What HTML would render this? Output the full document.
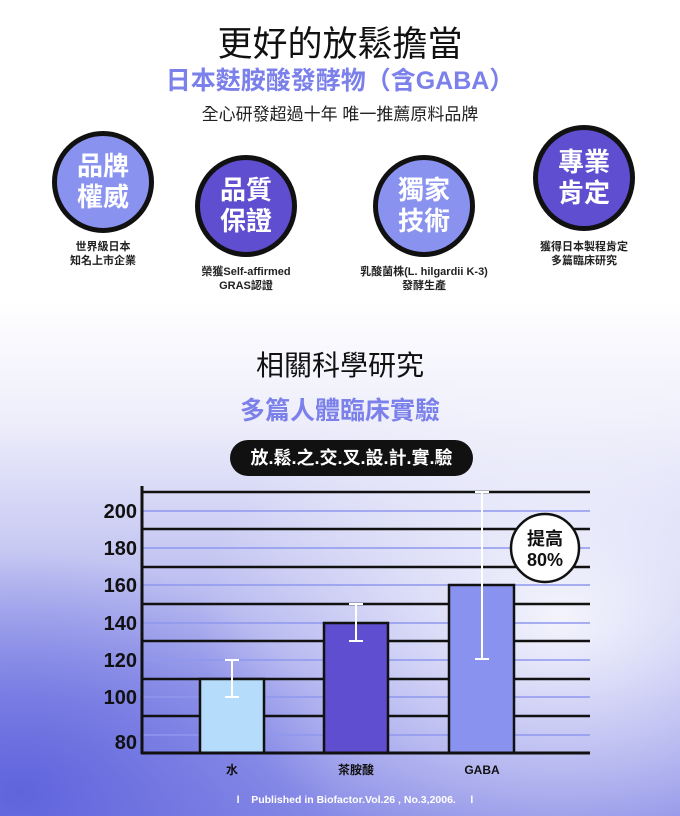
<!DOCTYPE html>
<html><head><meta charset="utf-8"><style>
*{margin:0;padding:0;box-sizing:border-box}
body{width:680px;height:816px;overflow:hidden;position:relative;font-family:"Liberation Sans","Noto Sans CJK TC",sans-serif;
background:linear-gradient(180deg,#fff 0px,#fff 300px,#eeeefb 420px,#c4c6f2 560px,#9a9deb 700px,#878ae6 816px);}
.bg2{position:absolute;left:0;top:0;width:680px;height:816px;background:radial-gradient(ellipse 360px 260px at 560px 620px,rgba(255,255,255,.85),rgba(255,255,255,0)),radial-gradient(ellipse 320px 240px at 20px 790px,rgba(85,90,218,.8),rgba(85,90,218,0));}
.t{position:absolute;left:0;width:680px;text-align:center;white-space:nowrap}
.c{position:absolute;border:5px solid #111;border-radius:50%;color:#fff;font-weight:bold;font-size:26px;line-height:31px;display:flex;align-items:center;justify-content:center;text-align:center}
.cap{position:absolute;font-size:11px;font-weight:bold;line-height:14px;text-align:center;width:200px;color:#222}
</style></head><body><div class="bg2"></div>
<div class="t" style="top:16px;font-size:35px;color:#111">更好的放鬆擔當</div>
<div class="t" style="top:61px;font-size:25px;font-weight:bold;color:#7b80ea">日本麩胺酸發酵物（含GABA）</div>
<div class="t" style="top:100px;font-size:17px;color:#222">全心研發超過十年 唯一推薦原料品牌</div>
<div class="c" style="left:52px;top:131px;width:102px;height:102px;background:#8a92f0">品牌<br>權威</div>
<div class="c" style="left:195px;top:155px;width:102px;height:102px;background:#5f4ecf">品質<br>保證</div>
<div class="c" style="left:373px;top:155px;width:102px;height:102px;background:#8a92f0">獨家<br>技術</div>
<div class="c" style="left:533px;top:125px;width:102px;height:106px;background:#5f4ecf">專業<br>肯定</div>
<div class="cap" style="left:3px;top:240px">世界級日本<br>知名上市企業</div>
<div class="cap" style="left:146px;top:265px">榮獲Self-affirmed<br>GRAS認證</div>
<div class="cap" style="left:324px;top:265px">乳酸菌株(L. hilgardii K-3)<br>發酵生產</div>
<div class="cap" style="left:484px;top:240px">獲得日本製程肯定<br>多篇臨床研究</div>
<div class="t" style="top:344px;font-size:28px;color:#111">相關科學研究</div>
<div class="t" style="top:391px;font-size:25px;font-weight:bold;color:#7b80ea">多篇人體臨床實驗</div>
<div style="position:absolute;left:230px;top:440px;width:243px;height:36px;background:#111;border-radius:18px;color:#fff;font-size:18px;font-weight:bold;text-align:center;line-height:36px">放.鬆.之.交.叉.設.計.實.驗</div>
<svg style="position:absolute;left:0;top:0" width="680" height="816">
<g stroke="#8f97ee" stroke-width="1.5">
<line x1="142" x2="590" y1="511" y2="511"/><line x1="142" x2="590" y1="548" y2="548"/><line x1="142" x2="590" y1="585" y2="585"/><line x1="142" x2="590" y1="623" y2="623"/><line x1="142" x2="590" y1="660" y2="660"/><line x1="142" x2="590" y1="697" y2="697"/><line x1="142" x2="590" y1="735" y2="735"/></g>
<g stroke="#111" stroke-width="2.5">
<line x1="142" x2="590" y1="492" y2="492"/><line x1="142" x2="590" y1="529" y2="529"/><line x1="142" x2="590" y1="567" y2="567"/><line x1="142" x2="590" y1="604" y2="604"/><line x1="142" x2="590" y1="641" y2="641"/><line x1="142" x2="590" y1="679" y2="679"/><line x1="142" x2="590" y1="716" y2="716"/></g>
<rect x="200" y="679" width="64" height="74" fill="#b5dcfb" stroke="#111" stroke-width="2.5"/>
<rect x="324" y="623" width="64" height="130" fill="#5f4ecf" stroke="#111" stroke-width="2.5"/>
<rect x="449" y="585" width="65" height="168" fill="#8a92f0" stroke="#111" stroke-width="2.5"/>
<g stroke="#fff" stroke-width="2">
<line x1="232" x2="232" y1="660" y2="697"/><line x1="225" x2="239" y1="660" y2="660"/><line x1="225" x2="239" y1="697" y2="697"/>
<line x1="356" x2="356" y1="604" y2="641"/><line x1="349" x2="363" y1="604" y2="604"/><line x1="349" x2="363" y1="641" y2="641"/>
<line x1="482" x2="482" y1="492" y2="659"/><line x1="475" x2="489" y1="492" y2="492"/><line x1="475" x2="489" y1="659" y2="659"/></g>
<line x1="142" x2="142" y1="486" y2="754" stroke="#111" stroke-width="3"/>
<line x1="141" x2="590" y1="753" y2="753" stroke="#111" stroke-width="3"/>
<circle cx="545" cy="548" r="34" fill="#fff" stroke="#111" stroke-width="2.5"/>
<g font-family="Liberation Sans,Noto Sans CJK TC,sans-serif" font-weight="bold" fill="#111">
<text x="545" y="545" font-size="18" text-anchor="middle">提高</text>
<text x="545" y="566" font-size="18" text-anchor="middle">80%</text>
<g font-size="20" text-anchor="end">
<text x="137" y="518">200</text><text x="137" y="555">180</text><text x="137" y="592">160</text><text x="137" y="630">140</text><text x="137" y="667">120</text><text x="137" y="704">100</text><text x="137" y="749">80</text></g>
<g font-size="12" text-anchor="middle">
<text x="232" y="774">水</text><text x="356" y="774">茶胺酸</text><text x="482" y="774">GABA</text></g>
<text x="355" y="803" font-size="10.5" fill="#fff" text-anchor="middle" xml:space="preserve" style="white-space:pre">l    Published in Biofactor.Vol.26 , No.3,2006.     l</text>
</g></svg>
</body></html>
